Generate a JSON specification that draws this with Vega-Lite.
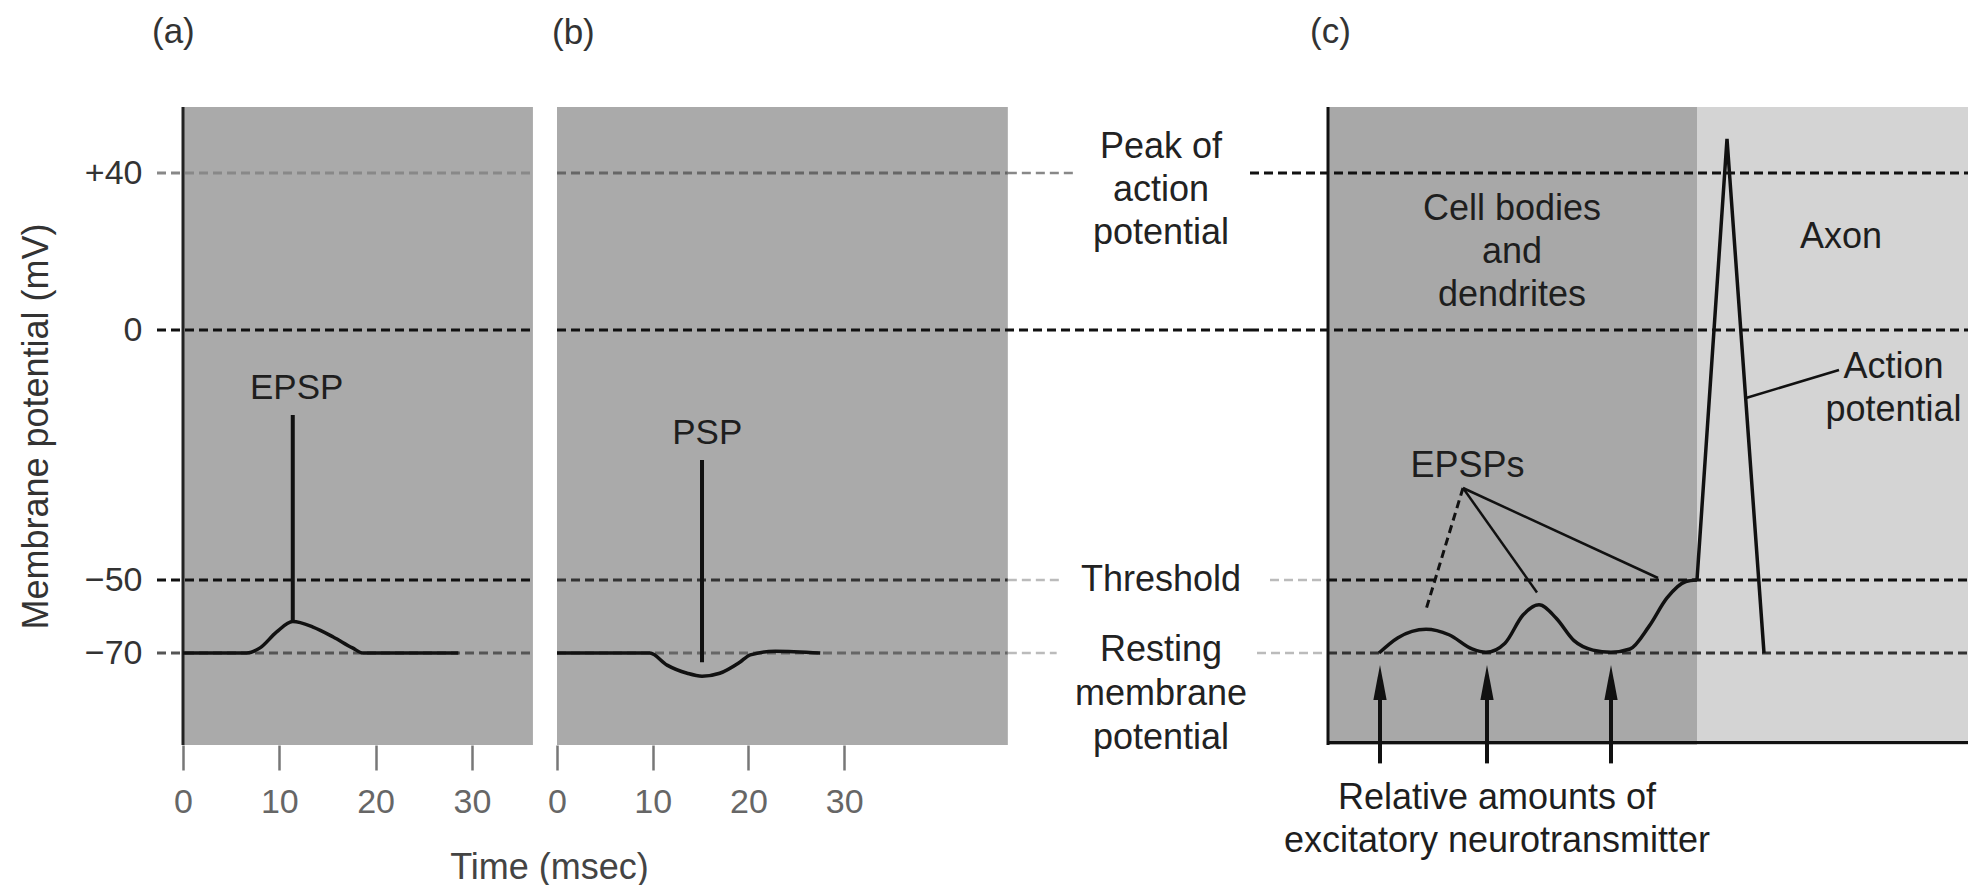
{
  "$schema": "https://vega.github.io/schema/vega-lite/v6.json",
  "background": "white",
  "padding": {"left": 18, "top": 14, "right": 0, "bottom": 0},
  "config": {"view": {"stroke": null}, "font": "Liberation Sans"},
  "spacing": 0,
  "bounds": "flush",
  "resolve": {"scale": {"x": "independent", "y": "independent", "color": "independent"}},
  "hconcat": [
    {
      "width": 400,
      "height": 638,
      "title": {"text": "(a)", "anchor": "start", "frame": "group", "dx": -5, "offset": 21, "fontSize": 35, "fontWeight": "normal", "color": "#333", "baseline": "bottom"},
      "encoding": {
        "x": {
          "field": "t", "type": "quantitative",
          "scale": {"domain": [-2.7, 38.84], "zero": false, "nice": false},
          "axis": {
            "values": [0, 10, 20, 30], "domain": false, "grid": false,
            "tickSize": 25, "tickWidth": 2.5, "tickColor": "#777",
            "labelFontSize": 34, "labelColor": "#666", "labelBaseline": "middle", "labelPadding": 32,
            "labelFlush": false, "labelOverlap": false,
            "title": "Time (msec)", "titleFontSize": 36, "titleFontWeight": "normal", "titleColor": "#444",
            "titleX": 392, "titleY": 122, "titleAlign": "center", "titleBaseline": "middle"
          }
        }
      },
      "layer": [
        {
          "data": {"values": [{"t": 0, "t2": 36.34}]},
          "mark": {"type": "rect", "color": "#aaaaaa"},
          "encoding": {"x2": {"field": "t2"}}
        },
        {
          "data": {"values": [
            {"mV": 40, "t": -2.7, "t2": 36.34},
            {"mV": 0, "t": -2.7, "t2": 36.34},
            {"mV": -50, "t": -2.7, "t2": 36.34},
            {"mV": -70, "t": -2.7, "t2": 36.34}
          ]},
          "mark": {"type": "rule", "strokeDash": [9, 5], "strokeWidth": 3},
          "encoding": {
            "x2": {"field": "t2"},
            "y": {
              "field": "mV", "type": "quantitative",
              "scale": {"domain": [-95, -70, -50, 0, 40, 57], "range": [638, 546, 473, 223, 66, 0], "zero": false, "nice": false},
              "axis": {
                "values": [40, 0, -50, -70],
                "labelExpr": "datum.value > 0 ? '+' + datum.label : datum.label",
                "domain": false, "ticks": false, "tickSize": 0, "grid": false,
                "labelPadding": 15, "labelFontSize": 34, "labelColor": "#333",
                "labelFlush": false, "labelOverlap": false,
                "title": "Membrane potential (mV)", "titleFontSize": 36, "titleFontWeight": "normal",
                "titleColor": "#333", "titlePadding": 29
              }
            },
            "color": {"condition": [{"test": "datum.mV == 40", "value": "#888888"}, {"test": "datum.mV == -70", "value": "#555555"}], "value": "#111111"}
          }
        },
        {
          "data": {"values": [{"t": 0}]},
          "mark": {"type": "rule", "color": "#222", "strokeWidth": 3},
          "encoding": {}
        },
        {
          "data": {"values": [
            {"t": 0, "mV": -70}, {"t": 6.6, "mV": -70}, {"t": 8.0, "mV": -68.6}, {"t": 9.7, "mV": -64.3},
            {"t": 11.4, "mV": -61.4}, {"t": 13.5, "mV": -62.9}, {"t": 15.6, "mV": -65.6},
            {"t": 17.6, "mV": -68.6}, {"t": 18.7, "mV": -70}, {"t": 28.6, "mV": -70}
          ]},
          "mark": {"type": "line", "interpolate": "monotone", "color": "#111", "strokeWidth": 3.5},
          "encoding": {"y": {
              "field": "mV", "type": "quantitative",
              "scale": {"domain": [-95, -70, -50, 0, 40, 57], "range": [638, 546, 473, 223, 66, 0], "zero": false, "nice": false},
              "axis": {
                "values": [40, 0, -50, -70],
                "labelExpr": "datum.value > 0 ? '+' + datum.label : datum.label",
                "domain": false, "ticks": false, "tickSize": 0, "grid": false,
                "labelPadding": 15, "labelFontSize": 34, "labelColor": "#333",
                "labelFlush": false, "labelOverlap": false,
                "title": "Membrane potential (mV)", "titleFontSize": 36, "titleFontWeight": "normal",
                "titleColor": "#333", "titlePadding": 29
              }
            }}
        },
        {
          "data": {"values": [{"t": 11.4, "mV": -17, "mV2": -61.4}]},
          "mark": {"type": "rule", "color": "#111", "strokeWidth": 4},
          "encoding": {
            "y": {
              "field": "mV", "type": "quantitative",
              "scale": {"domain": [-95, -70, -50, 0, 40, 57], "range": [638, 546, 473, 223, 66, 0], "zero": false, "nice": false},
              "axis": {
                "values": [40, 0, -50, -70],
                "labelExpr": "datum.value > 0 ? '+' + datum.label : datum.label",
                "domain": false, "ticks": false, "tickSize": 0, "grid": false,
                "labelPadding": 15, "labelFontSize": 34, "labelColor": "#333",
                "labelFlush": false, "labelOverlap": false,
                "title": "Membrane potential (mV)", "titleFontSize": 36, "titleFontWeight": "normal",
                "titleColor": "#333", "titlePadding": 29
              }
            },
            "y2": {"field": "mV2"}
          }
        },
        {
          "data": {"values": [{"t": 11.8, "mV": -11.6, "label": "EPSP"}]},
          "mark": {"type": "text", "fontSize": 35, "color": "#1e1e1e", "align": "center", "baseline": "middle"},
          "encoding": {
            "y": {
              "field": "mV", "type": "quantitative",
              "scale": {"domain": [-95, -70, -50, 0, 40, 57], "range": [638, 546, 473, 223, 66, 0], "zero": false, "nice": false},
              "axis": {
                "values": [40, 0, -50, -70],
                "labelExpr": "datum.value > 0 ? '+' + datum.label : datum.label",
                "domain": false, "ticks": false, "tickSize": 0, "grid": false,
                "labelPadding": 15, "labelFontSize": 34, "labelColor": "#333",
                "labelFlush": false, "labelOverlap": false,
                "title": "Membrane potential (mV)", "titleFontSize": 36, "titleFontWeight": "normal",
                "titleColor": "#333", "titlePadding": 29
              }
            },
            "text": {"field": "label"}
          }
        }
      ]
    },
    {
      "width": 693,
      "height": 638,
      "title": {"text": "(b)", "anchor": "start", "frame": "group", "dx": -5, "offset": 21, "fontSize": 35, "fontWeight": "normal", "color": "#333", "baseline": "bottom"},
      "encoding": {
        "x": {
          "field": "t", "type": "quantitative",
          "scale": {"domain": [0, 72.4], "zero": false, "nice": false},
          "axis": {
            "values": [0, 10, 20, 30], "domain": false, "grid": false,
            "tickSize": 25, "tickWidth": 2.5, "tickColor": "#777",
            "labelFontSize": 34, "labelColor": "#666", "labelBaseline": "middle", "labelPadding": 32,
            "labelFlush": false, "labelOverlap": false, "title": null
          }
        }
      },
      "layer": [
        {
          "data": {"values": [{"t": 0, "t2": 47.1}]},
          "mark": {"type": "rect", "color": "#aaaaaa"},
          "encoding": {"x2": {"field": "t2"}}
        },
        {
          "data": {"values": [
            {"mV": 40, "t": 0, "t2": 47.1},
            {"mV": 0, "t": 0, "t2": 72.4},
            {"mV": -50, "t": 0, "t2": 47.1},
            {"mV": -70, "t": 0, "t2": 47.1}
          ]},
          "mark": {"type": "rule", "strokeDash": [9, 5], "strokeWidth": 3},
          "encoding": {
            "x2": {"field": "t2"},
            "y": {"field": "mV", "type": "quantitative", "scale": {"domain": [-95, -70, -50, 0, 40, 57], "range": [638, 546, 473, 223, 66, 0], "zero": false, "nice": false}, "axis": null},
            "color": {"condition": [{"test": "datum.mV == 40", "value": "#666666"}, {"test": "datum.mV == -70", "value": "#666666"}, {"test": "datum.mV == -50", "value": "#333333"}], "value": "#111111"}
          }
        },
        {
          "data": {"values": [
            {"mV": 40, "t": 47.1, "t2": 54.3},
            {"mV": -50, "t": 47.1, "t2": 52.6},
            {"mV": -70, "t": 47.1, "t2": 52.2}
          ]},
          "mark": {"type": "rule", "strokeDash": [9, 5], "strokeWidth": 2.5},
          "encoding": {
            "x2": {"field": "t2"},
            "y": {"field": "mV", "type": "quantitative", "scale": {"domain": [-95, -70, -50, 0, 40, 57], "range": [638, 546, 473, 223, 66, 0], "zero": false, "nice": false}, "axis": null},
            "color": {"condition": {"test": "datum.mV == 40", "value": "#888888"}, "value": "#bbbbbb"}
          }
        },
        {
          "data": {"values": [
            {"t": 0, "mV": -70}, {"t": 9.7, "mV": -70}, {"t": 11.5, "mV": -73.3}, {"t": 13.6, "mV": -75.5},
            {"t": 15.15, "mV": -76.3}, {"t": 17.0, "mV": -75.5}, {"t": 19.1, "mV": -72.5},
            {"t": 20.2, "mV": -70.5}, {"t": 22.8, "mV": -69.5}, {"t": 27.5, "mV": -70}
          ]},
          "mark": {"type": "line", "interpolate": "monotone", "color": "#111", "strokeWidth": 3.5},
          "encoding": {"y": {"field": "mV", "type": "quantitative", "scale": {"domain": [-95, -70, -50, 0, 40, 57], "range": [638, 546, 473, 223, 66, 0], "zero": false, "nice": false}, "axis": null}}
        },
        {
          "data": {"values": [{"t": 15.15, "mV": -26, "mV2": -72.5}]},
          "mark": {"type": "rule", "color": "#111", "strokeWidth": 4},
          "encoding": {
            "y": {"field": "mV", "type": "quantitative", "scale": {"domain": [-95, -70, -50, 0, 40, 57], "range": [638, 546, 473, 223, 66, 0], "zero": false, "nice": false}, "axis": null},
            "y2": {"field": "mV2"}
          }
        },
        {
          "data": {"values": [{"t": 15.7, "mV": -20.6, "label": "PSP"}]},
          "mark": {"type": "text", "fontSize": 35, "color": "#1e1e1e", "align": "center", "baseline": "middle"},
          "encoding": {
            "y": {"field": "mV", "type": "quantitative", "scale": {"domain": [-95, -70, -50, 0, 40, 57], "range": [638, 546, 473, 223, 66, 0], "zero": false, "nice": false}, "axis": null},
            "text": {"field": "label"}
          }
        },
        {
          "data": {"values": [{"t": 63.1, "mV": 40, "label": "Peak of\naction\npotential"}]},
          "mark": {"type": "text", "fontSize": 36, "color": "#222", "align": "center", "baseline": "middle", "lineBreak": "\n", "lineHeight": 43, "dy": -26},
          "encoding": {
            "y": {"field": "mV", "type": "quantitative", "scale": {"domain": [-95, -70, -50, 0, 40, 57], "range": [638, 546, 473, 223, 66, 0], "zero": false, "nice": false}, "axis": null},
            "text": {"field": "label"}
          }
        },
        {
          "data": {"values": [{"t": 63.1, "mV": -50, "label": "Threshold"}]},
          "mark": {"type": "text", "fontSize": 36, "color": "#222", "align": "center", "baseline": "middle"},
          "encoding": {
            "y": {"field": "mV", "type": "quantitative", "scale": {"domain": [-95, -70, -50, 0, 40, 57], "range": [638, 546, 473, 223, 66, 0], "zero": false, "nice": false}, "axis": null},
            "text": {"field": "label"}
          }
        },
        {
          "data": {"values": [{"t": 63.1, "mV": -70, "label": "Resting\nmembrane\npotential"}]},
          "mark": {"type": "text", "fontSize": 36, "color": "#222", "align": "center", "baseline": "middle", "lineBreak": "\n", "lineHeight": 44, "dy": -3},
          "encoding": {
            "y": {"field": "mV", "type": "quantitative", "scale": {"domain": [-95, -70, -50, 0, 40, 57], "range": [638, 546, 473, 223, 66, 0], "zero": false, "nice": false}, "axis": null},
            "text": {"field": "label"}
          }
        }
      ]
    },
    {
      "width": 718,
      "height": 638,
      "title": {"text": "(c)", "anchor": "start", "frame": "group", "dx": 60, "offset": 21, "fontSize": 35, "fontWeight": "normal", "color": "#333", "baseline": "bottom"},
      "encoding": {
        "x": {
          "field": "t", "type": "quantitative",
          "scale": {"domain": [-7.8, 64], "zero": false, "nice": false},
          "axis": null
        }
      },
      "layer": [
        {
          "data": {"values": [
            {"region": "Cell bodies and dendrites", "t": 0, "t2": 36.9},
            {"region": "Axon", "t": 36.9, "t2": 64}
          ]},
          "mark": {"type": "rect"},
          "encoding": {
            "x2": {"field": "t2"},
            "color": {"field": "region", "type": "nominal", "scale": {"domain": ["Cell bodies and dendrites", "Axon"], "range": ["#a8a8a8", "#d4d4d4"]}, "legend": null}
          }
        },
        {
          "data": {"values": [
            {"mV": 40, "t": -7.8, "t2": 64},
            {"mV": 0, "t": -7.8, "t2": 64},
            {"mV": -50, "t": 0, "t2": 64},
            {"mV": -70, "t": 0, "t2": 64}
          ]},
          "mark": {"type": "rule", "strokeDash": [9, 5], "strokeWidth": 3},
          "encoding": {
            "x2": {"field": "t2"},
            "y": {"field": "mV", "type": "quantitative", "scale": {"domain": [-95, -70, -50, 0, 40, 57], "range": [638, 546, 473, 223, 66, 0], "zero": false, "nice": false}, "axis": null},
            "color": {"condition": {"test": "datum.mV == -70", "value": "#333333"}, "value": "#111111"}
          }
        },
        {
          "data": {"values": [
            {"mV": -50, "t": -5.8, "t2": 0},
            {"mV": -70, "t": -7.1, "t2": 0}
          ]},
          "mark": {"type": "rule", "strokeDash": [9, 5], "strokeWidth": 2.5, "color": "#bbbbbb"},
          "encoding": {
            "x2": {"field": "t2"},
            "y": {"field": "mV", "type": "quantitative", "scale": {"domain": [-95, -70, -50, 0, 40, 57], "range": [638, 546, 473, 223, 66, 0], "zero": false, "nice": false}, "axis": null}
          }
        },
        {
          "data": {"values": [{"t": 0}]},
          "mark": {"type": "rule", "color": "#111", "strokeWidth": 3},
          "encoding": {}
        },
        {
          "data": {"values": [{"t": 0, "t2": 64, "mV": -94.3}]},
          "mark": {"type": "rule", "color": "#111", "strokeWidth": 3},
          "encoding": {
            "x2": {"field": "t2"},
            "y": {"field": "mV", "type": "quantitative", "scale": {"domain": [-95, -70, -50, 0, 40, 57], "range": [638, 546, 473, 223, 66, 0], "zero": false, "nice": false}, "axis": null}
          }
        },
        {
          "data": {"values": [
            {"t": 5.1, "mV": -70}, {"t": 7.0, "mV": -65.8}, {"t": 9.8, "mV": -63.5}, {"t": 12.1, "mV": -65.0},
            {"t": 14.4, "mV": -68.9}, {"t": 15.8, "mV": -69.8}, {"t": 17.7, "mV": -67.3}, {"t": 19.5, "mV": -59.6},
            {"t": 21.1, "mV": -56.8}, {"t": 22.8, "mV": -60.4}, {"t": 24.6, "mV": -66.6}, {"t": 26.5, "mV": -69.2},
            {"t": 28.3, "mV": -69.8}, {"t": 30.2, "mV": -68.9}, {"t": 32.1, "mV": -62.7}, {"t": 33.9, "mV": -54.9},
            {"t": 35.8, "mV": -50.4}, {"t": 36.9, "mV": -50}
          ]},
          "mark": {"type": "line", "interpolate": "monotone", "color": "#111", "strokeWidth": 3.5},
          "encoding": {"y": {"field": "mV", "type": "quantitative", "scale": {"domain": [-95, -70, -50, 0, 40, 57], "range": [638, 546, 473, 223, 66, 0], "zero": false, "nice": false}, "axis": null}}
        },
        {
          "data": {"values": [
            {"t": 36.9, "mV": -50}, {"t": 39.9, "mV": 48.8}, {"t": 43.6, "mV": -70}
          ]},
          "mark": {"type": "line", "color": "#111", "strokeWidth": 3.5},
          "encoding": {"y": {"field": "mV", "type": "quantitative", "scale": {"domain": [-95, -70, -50, 0, 40, 57], "range": [638, 546, 473, 223, 66, 0], "zero": false, "nice": false}, "axis": null}}
        },
        {
          "data": {"values": [
            {"t": 13.5, "mV": -31.6, "t2": 20.9, "mV2": -53.4},
            {"t": 13.5, "mV": -31.6, "t2": 33.0, "mV2": -49.6},
            {"t": 41.8, "mV": -13.6, "t2": 51.1, "mV2": -8.0}
          ]},
          "mark": {"type": "rule", "color": "#111", "strokeWidth": 2.5},
          "encoding": {
            "x2": {"field": "t2"},
            "y": {"field": "mV", "type": "quantitative", "scale": {"domain": [-95, -70, -50, 0, 40, 57], "range": [638, 546, 473, 223, 66, 0], "zero": false, "nice": false}, "axis": null},
            "y2": {"field": "mV2"}
          }
        },
        {
          "data": {"values": [{"t": 13.5, "mV": -31.6, "t2": 9.8, "mV2": -58.1}]},
          "mark": {"type": "rule", "color": "#111", "strokeWidth": 3, "strokeDash": [8, 5]},
          "encoding": {
            "x2": {"field": "t2"},
            "y": {"field": "mV", "type": "quantitative", "scale": {"domain": [-95, -70, -50, 0, 40, 57], "range": [638, 546, 473, 223, 66, 0], "zero": false, "nice": false}, "axis": null},
            "y2": {"field": "mV2"}
          }
        },
        {
          "data": {"values": [
            {"t": 5.2, "tail": -100, "head": -78},
            {"t": 15.9, "tail": -100, "head": -78},
            {"t": 28.3, "tail": -100, "head": -78}
          ]},
          "mark": {"type": "rule", "color": "#111", "strokeWidth": 4},
          "encoding": {
            "y": {"field": "tail", "type": "quantitative", "scale": {"domain": [-95, -70, -50, 0, 40, 57], "range": [638, 546, 473, 223, 66, 0], "zero": false, "nice": false}, "axis": null},
            "y2": {"field": "head"}
          }
        },
        {
          "data": {"values": [
            {"t": 5.2, "tail": -100, "head": -78},
            {"t": 15.9, "tail": -100, "head": -78},
            {"t": 28.3, "tail": -100, "head": -78}
          ]},
          "mark": {"type": "point", "shape": "M0,-1L0.38,1L-0.38,1Z", "size": 1225, "filled": true, "color": "#111", "opacity": 1},
          "encoding": {
            "y": {"field": "head", "type": "quantitative", "scale": {"domain": [-95, -70, -50, 0, 40, 57], "range": [638, 546, 473, 223, 66, 0], "zero": false, "nice": false}, "axis": null}
          }
        },
        {
          "data": {"values": [
            {"t": 18.4, "mV": 30.8, "label": "Cell bodies\nand\ndendrites"},
            {"t": 51.3, "mV": 23.7, "label": "Axon"},
            {"t": 13.95, "mV": -27.2, "label": "EPSPs"},
            {"t": 56.55, "mV": -7.4, "label": "Action\npotential"},
            {"t": 16.9, "mV": -109.5, "label": "Relative amounts of\nexcitatory neurotransmitter"}
          ]},
          "mark": {"type": "text", "fontSize": 36, "color": "#1e1e1e", "align": "center", "baseline": "middle", "lineBreak": "\n", "lineHeight": 43},
          "encoding": {
            "y": {"field": "mV", "type": "quantitative", "scale": {"domain": [-95, -70, -50, 0, 40, 57], "range": [638, 546, 473, 223, 66, 0], "zero": false, "nice": false}, "axis": null},
            "text": {"field": "label"}
          }
        }
      ]
    }
  ]
}
